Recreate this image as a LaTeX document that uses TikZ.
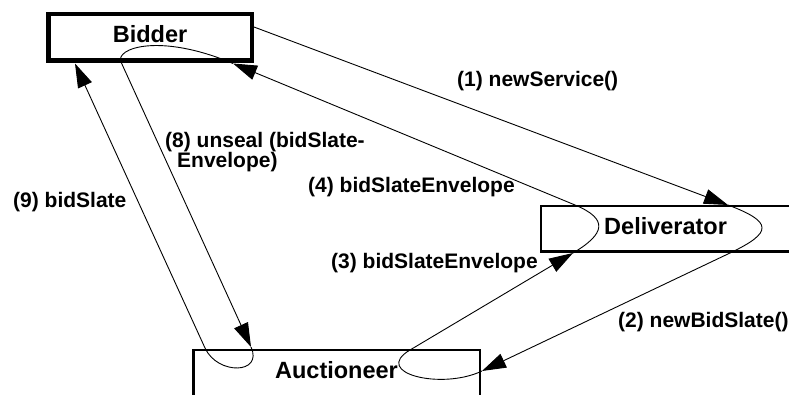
\documentclass[tikz,border=0pt]{standalone}
\usepackage{fontspec}
\setmainfont{Liberation Sans}
\usetikzlibrary{arrows.meta}
\begin{document}
\begin{tikzpicture}[x=1pt,y=-1pt,
  box/.style={draw, line width=2.5pt, inner sep=0pt,
    font=\fontsize{23.5}{28}\selectfont\bfseries},
  msg/.style={anchor=base west, inner sep=0pt,
    font=\fontsize{21}{24}\selectfont\bfseries},
  flow/.style={line width=0.9pt, -{Triangle[length=24pt,width=15pt]}}]
\useasboundingbox (0,0) rectangle (789,395);
\clip (0,0) rectangle (789,395);

% parties
\node[box, line width=4.5pt, minimum width=203.5pt, minimum height=46.5pt,
      text height=17pt, text depth=6pt] (bidder) at (150,37.5) {Bidder};
\node[box, minimum width=248.75pt, minimum height=45.5pt,
      text height=17pt, text depth=5pt] (deliv) at (665.6,229) {Deliverator};
\node[box, minimum width=286.5pt, minimum height=69.75pt,
      text height=17pt, text depth=31.2pt] (auct) at (336.5,385.1) {Auctioneer};

% arrow ends and loop exits
\coordinate (b1)  at (254,27);
\coordinate (d1)  at (728,205);
\coordinate (d1x) at (730,253);
\coordinate (a2)  at (482,371);
\coordinate (a2x) at (410,350);
\coordinate (d3)  at (573,253);
\coordinate (d3x) at (575,205);
\coordinate (b4)  at (233,63.5);
\coordinate (b4x) at (121,62);
\coordinate (a8)  at (251,347);
\coordinate (a8x) at (205,348);
\coordinate (b9)  at (75,63.5);

% (1) Bidder -> Deliverator
\draw[flow] (b1) -- (d1);
% (2) Deliverator -> Auctioneer
\draw[flow] (d1) .. controls (773,222) and (773,232.4) .. (d1x) -- (a2);
% (3) Auctioneer -> Deliverator
\draw[flow] (a2) .. controls (441.4,390.4) and (371.3,373) .. (a2x) -- (d3);
% (4) Deliverator -> Bidder
\draw[flow] (d3) .. controls (604.8,234.1) and (609.2,219.2) .. (d3x) -- (b4);
% (8) Bidder -> Auctioneer
\draw[flow] (b4) .. controls (159.1,32.3) and (114.8,48.4) .. (b4x) -- (a8);
% (9) Auctioneer -> Bidder
\draw[flow] (a8) .. controls (263.5,374.3) and (217.5,375.3) .. (a8x) -- (b9);

% message labels
\node[msg] (l1) at (457,87)  {(1) newService()};
\node[msg] (l2) at (618,327) {(2) newBidSlate()};
\node[msg] (l3) at (331,268) {(3) bidSlateEnvelope};
\node[msg] (l4) at (308,193) {(4) bidSlateEnvelope};
\node[msg] (l8a) at (165,148) {(8) unseal (bidSlate-};
\node[msg] (l8b) at (177,168) {Envelope)};
\node[msg] (l9) at (13,208)  {(9) bidSlate};
\end{tikzpicture}
\end{document}
